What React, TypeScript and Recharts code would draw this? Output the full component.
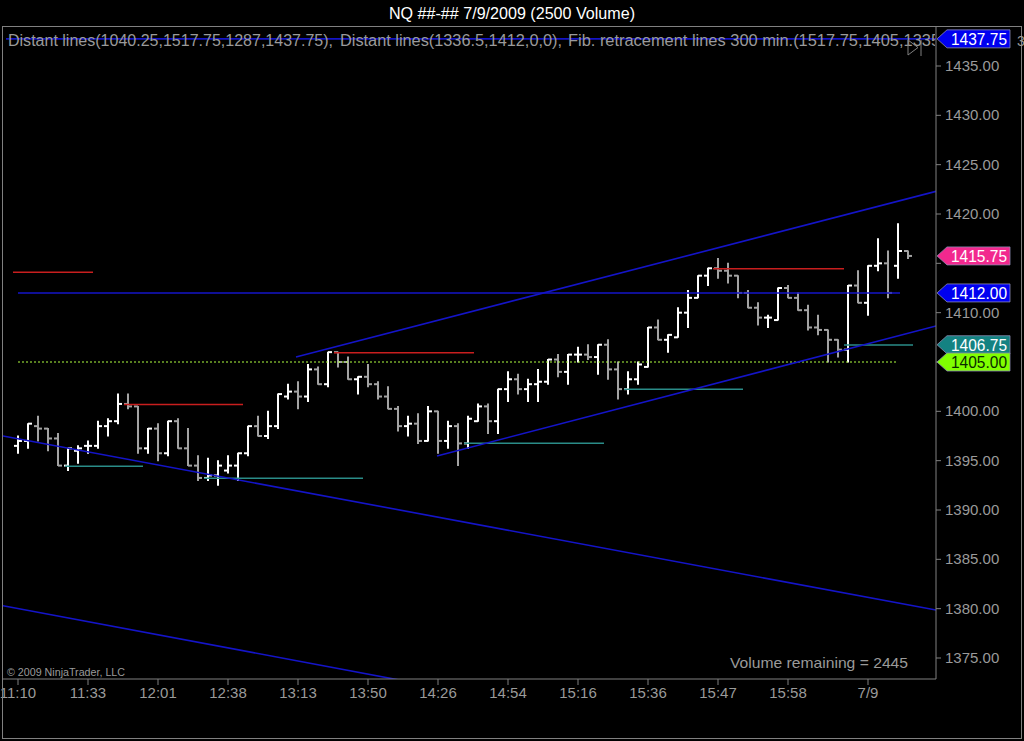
import React from 'react';
import {
  ComposedChart,
  Bar,
  XAxis,
  YAxis,
  ReferenceLine,
  ReferenceDot,
} from 'recharts';

// OHLC of the 2500-volume bars, left to right
const opens = [
  1396.5, 1397, 1398.5, 1398.25, 1397.25, 1394.5, 1396, 1396.5, 1396.5, 1398.5,
  1399, 1400.75, 1400.5, 1396.25, 1398.25, 1395.75, 1399, 1396.25, 1394.5, 1393.25,
  1393.5, 1394, 1394.5, 1395.75, 1398.5, 1397.5, 1398.5, 1401.5, 1402, 1401.5,
  1404.25, 1402.75, 1406, 1405, 1403.25, 1403.5, 1402.75, 1401.5, 1400.25, 1398.5,
  1398.75, 1397, 1400, 1397, 1398.5, 1396.75, 1399, 1400.5, 1399, 1402.25,
  1403.25, 1402.25, 1402.75, 1403, 1405.25, 1404, 1405.75, 1405.75, 1405.5, 1406.75,
  1404.25, 1402.25, 1403.25, 1404.5, 1408.5, 1407.25, 1407.5, 1410, 1411.5, 1413.75,
  1414.5, 1414.25, 1413.75, 1412, 1410.5, 1409.5, 1409.25, 1412.5, 1411.5, 1410.25,
  1408.5, 1408.25, 1407.25, 1406.25, 1412.75, 1411, 1414.75, 1415, 1414.75, 1416.25,
];
const highs = [
  1397.5, 1398.75, 1399.5, 1398.25, 1397.75, 1396.25, 1396.5, 1397, 1399, 1399.25,
  1401.75, 1401.75, 1400.5, 1398.25, 1398.75, 1399, 1399.25, 1398.25, 1395.5, 1395.25,
  1395, 1395.5, 1395.75, 1398.5, 1399.5, 1400, 1401.75, 1402.75, 1403, 1404.75,
  1404.5, 1406, 1406, 1405.5, 1403.5, 1404.75, 1403, 1402.5, 1400.5, 1399.5,
  1399.75, 1400.5, 1400, 1399, 1398.75, 1399.5, 1400.75, 1400.75, 1402.25, 1404,
  1403.75, 1403.25, 1404.25, 1405.25, 1405.75, 1405.75, 1406.5, 1406.75, 1406.75, 1407.25,
  1405, 1404, 1405, 1408.5, 1409.25, 1407.75, 1410.5, 1412.25, 1413.75, 1414.5,
  1415.5, 1415, 1413.75, 1412.25, 1411, 1409.75, 1412.5, 1412.75, 1412, 1410.75,
  1409.75, 1408.25, 1407.25, 1412.75, 1414.25, 1414.75, 1417.5, 1416.25, 1419, 1416.25,
];
const lows = [
  1395.75, 1396.25, 1397, 1396, 1394.5, 1394, 1394.75, 1395.75, 1396.25, 1397.5,
  1398.75, 1400.25, 1395.75, 1395.75, 1395, 1395.5, 1396.25, 1394.5, 1393, 1393,
  1392.5, 1393.75, 1393, 1395.5, 1397.5, 1397.25, 1398.25, 1401.25, 1400.25, 1401,
  1402.75, 1402.5, 1404.5, 1403.25, 1401.75, 1402.5, 1401.25, 1400.25, 1398, 1397.5,
  1396.75, 1397, 1395.75, 1396.25, 1394.5, 1396.25, 1399, 1397.75, 1397.75, 1401,
  1401.75, 1401, 1401, 1402.75, 1403.5, 1402.75, 1405, 1405.25, 1403.75, 1403.25,
  1401.25, 1401.75, 1402.75, 1404.5, 1407.25, 1406, 1407.5, 1408.5, 1411.5, 1412.75,
  1413.5, 1413, 1411.5, 1410.5, 1408.75, 1408.5, 1409.25, 1411.5, 1410.25, 1408.25,
  1407.75, 1405, 1405.5, 1405, 1411, 1409.75, 1414.25, 1411.5, 1413.5, 1415.5,
];
const closes = [
  1397, 1398.75, 1398.25, 1397.25, 1394.5, 1396.25, 1396.25, 1396.5, 1398.5, 1399,
  1400.75, 1400.5, 1396.25, 1398.25, 1395.75, 1399, 1396.25, 1394.5, 1393.25, 1393.5,
  1394.5, 1394.5, 1395.75, 1398.5, 1397.5, 1398.5, 1401.75, 1402, 1401.5, 1404.25,
  1402.75, 1406, 1405, 1403.25, 1403.5, 1402.75, 1401.5, 1400.25, 1398.5, 1398.75,
  1397, 1400, 1397, 1398.5, 1396.75, 1399.25, 1400.5, 1399, 1402.25, 1403.25,
  1402.25, 1402.75, 1403, 1405.25, 1404, 1405.75, 1405.75, 1405.5, 1406.75, 1404.25,
  1402.25, 1403.25, 1404.75, 1408.5, 1407.25, 1407.75, 1410, 1411.5, 1413.75, 1414.5,
  1414.25, 1413.75, 1412, 1410.5, 1409.5, 1409.5, 1412.5, 1411.5, 1410.25, 1408.5,
  1408.25, 1407.25, 1406.25, 1412.75, 1411, 1414.75, 1415, 1412, 1416.25, 1415.75,
];

// time axis labels (bar index -> text)
const timeTickIdx = [0, 7, 14, 21, 28, 35, 42, 49, 56, 63, 70, 77, 85];
const timeTickText = ['11:10', '11:33', '12:01', '12:38', '13:13', '13:50', '14:26',
  '14:54', '15:16', '15:36', '15:47', '15:58', '7/9'];

const priceTicks = [1375, 1380, 1385, 1390, 1395, 1400, 1405, 1410, 1415, 1420, 1425, 1430, 1435];

// drawn lines: [x1, y1, x2, y2] in bar index / price
const blueLines = [
  [-1.2, 1437.75, 91.8, 1437.75],
  [0, 1412, 88.2, 1412],
  [-1.5, 1397.5, 91.8, 1379.86],
  [-1.5, 1380.3, 38.5, 1372.7],
  [27.8, 1405.5, 91.8, 1422.3],
  [41.9, 1395.47, 91.8, 1408.65],
];
const redLines = [
  [-0.5, 1414.1, 7.5, 1414.1],
  [10.6, 1400.7, 22.5, 1400.7],
  [31.6, 1405.95, 45.6, 1405.95],
  [69.5, 1414.45, 82.6, 1414.45],
];
const tealLines = [
  [4.7, 1394.43, 12.5, 1394.43],
  [18.6, 1393.22, 34.5, 1393.22],
  [44.6, 1396.76, 58.6, 1396.76],
  [60.6, 1402.24, 72.5, 1402.24],
  [82.6, 1406.72, 89.5, 1406.72],
];
const dottedLevel = [0, 1405, 88, 1405];

// price markers at the right edge
const markerPrices = [1437.75, 1415.75, 1412, 1406.75, 1405];
const markerFills = ['#0000f0', '#f2288e', '#0000f0', '#148282', '#80ff00'];
const markerText = ['#ffffff', '#ffffff', '#ffffff', '#ffffff', '#0a2a00'];

const FONT = '"Liberation Sans", Arial, sans-serif';
const GREY = '#9a9a9a';
const X_MIN = -1.5;
const X_MAX = 91.8;

const rows = opens.map((o, i) => ({
  i,
  o,
  h: highs[i],
  l: lows[i],
  c: closes[i],
  range: [lows[i], highs[i]],
}));

function OhlcBar(props: any) {
  const { x, y, width, height, payload } = props;
  if (!payload) return null;
  const cx = Math.round(x + width / 2);
  const top = Math.min(y, y + height);
  const ht = Math.abs(height);
  const span = payload.h - payload.l || 1;
  const at = (v: number) => top + ((payload.h - v) / span) * ht;
  const color = payload.c >= payload.o ? '#ffffff' : '#a3a3a3';
  return (
    <g>
      <line x1={cx} x2={cx} y1={top - 0.5} y2={top + ht + 0.5} stroke={color} strokeWidth={2} />
      <line x1={cx - 4} x2={cx} y1={at(payload.o)} y2={at(payload.o)} stroke={color} strokeWidth={2} />
      <line x1={cx} x2={cx + 4} y1={at(payload.c)} y2={at(payload.c)} stroke={color} strokeWidth={2} />
    </g>
  );
}

// price labels hidden behind a marker tag are not drawn
function PriceTick(props: any) {
  const { x, y, payload } = props;
  const v = payload.value;
  if (markerPrices.some((m) => Math.abs(m - v) < 1)) return null;
  return (
    <text x={x} y={y} dy={5} fill={GREY} fontSize={15} fontFamily={FONT}>
      {v.toFixed(2)}
    </text>
  );
}

function makeTag(k: number) {
  return (p: any) => {
    const x0 = p.cx + 1;
    const cy = p.cy;
    const pts = `${x0},${cy} ${x0 + 10},${cy - 9} ${x0 + 73},${cy - 9} ${x0 + 73},${cy + 9} ${x0 + 10},${cy + 9}`;
    return (
      <g>
        <polygon points={pts} fill={markerFills[k]} stroke="#8a8ab0" strokeWidth={0.8} />
        <text x={x0 + 70} y={cy + 6} textAnchor="end" fill={markerText[k]}
          fontSize={17} fontFamily={FONT} textLength={56} lengthAdjust="spacingAndGlyphs">
          {markerPrices[k].toFixed(2)}
        </text>
      </g>
    );
  };
}

function seg(l: number[]) {
  return [{ x: l[0], y: l[1] }, { x: l[2], y: l[3] }];
}

export default function App() {
  return (
    <div style={{ position: 'absolute', left: 0, top: 0, width: 1024, height: 741, background: '#000', fontFamily: FONT }}>
      <ComposedChart width={1024} height={741} data={rows}
        margin={{ top: 27, right: 0, bottom: 0, left: 3 }}>
        <XAxis dataKey="i" type="number" domain={[X_MIN, X_MAX]} allowDataOverflow
          ticks={timeTickIdx} interval={0} height={62} tickSize={6} tickMargin={2}
          tickFormatter={(v: number) => timeTickText[timeTickIdx.indexOf(v)] ?? ''}
          stroke="#808080" tick={{ fill: GREY, fontSize: 15, fontFamily: FONT }} />
        <YAxis orientation="right" width={88} domain={[1372.872, 1438.953]} allowDataOverflow
          ticks={priceTicks} interval={0} tickSize={5} tickMargin={4}
          stroke="#808080" tick={<PriceTick />} />

        <ReferenceLine segment={seg(dottedLevel)} stroke="#b0ff40" strokeWidth={1}
          strokeDasharray="2 2" ifOverflow="hidden" />
        {tealLines.map((l, k) => (
          <ReferenceLine key={'t' + k} segment={seg(l)} stroke="#2a8c88" strokeWidth={1.5} ifOverflow="hidden" />
        ))}
        {redLines.map((l, k) => (
          <ReferenceLine key={'r' + k} segment={seg(l)} stroke="#c81e1e" strokeWidth={1.5} ifOverflow="hidden" />
        ))}
        {blueLines.map((l, k) => (
          <ReferenceLine key={'b' + k} segment={seg(l)} stroke="#1414c8" strokeWidth={1.6} ifOverflow="hidden" />
        ))}

        <Bar dataKey="range" barSize={4} shape={OhlcBar} isAnimationActive={false} />

        {markerPrices.map((p, k) => (
          <ReferenceDot key={'m' + k} x={X_MAX} y={p} r={0} ifOverflow="visible" shape={makeTag(k)} />
        ))}
      </ComposedChart>

      <svg width={1024} height={741} style={{ position: 'absolute', left: 0, top: 0, pointerEvents: 'none' }}>
        <defs>
          <clipPath id="infoClip">
            <rect x={3} y={28} width={932} height={30} />
          </clipPath>
        </defs>
        <rect x={2.5} y={26.5} width={1019} height={712} fill="none" stroke="#808080" />
        <text x={512} y={19} textAnchor="middle" fill="#ffffff" fontSize={16} fontFamily={FONT}
          textLength={246} lengthAdjust="spacingAndGlyphs">NQ ##-##  7/9/2009 (2500 Volume)</text>
        <g clipPath="url(#infoClip)" fill={GREY} fontSize={16} fontFamily={FONT}>
          <text x={8} y={46} textLength={325} lengthAdjust="spacingAndGlyphs">Distant lines(1040.25,1517.75,1287,1437.75),</text>
          <text x={340} y={46} textLength={222} lengthAdjust="spacingAndGlyphs">Distant lines(1336.5,1412,0,0),</text>
          <text x={568} y={46} textLength={372} lengthAdjust="spacingAndGlyphs">Fib.  retracement  lines  300  min.(1517.75,1405,1335</text>
        </g>
        <polygon points="908,40 908,55 918,47.5" fill="none" stroke="#808080" />
        <line x1={921} x2={921} y1={40} y2={56} stroke="#808080" />
        <text x={1017} y={46} fill={GREY} fontSize={14} fontFamily={FONT}>3</text>
        <text x={908} y={668} textAnchor="end" fill={GREY} fontSize={15} fontFamily={FONT}
          textLength={178} lengthAdjust="spacingAndGlyphs">Volume remaining = 2445</text>
        <text x={7} y={676} fill={GREY} fontSize={10} fontFamily={FONT}
          textLength={118} lengthAdjust="spacingAndGlyphs">© 2009 NinjaTrader, LLC</text>
      </svg>
    </div>
  );
}
